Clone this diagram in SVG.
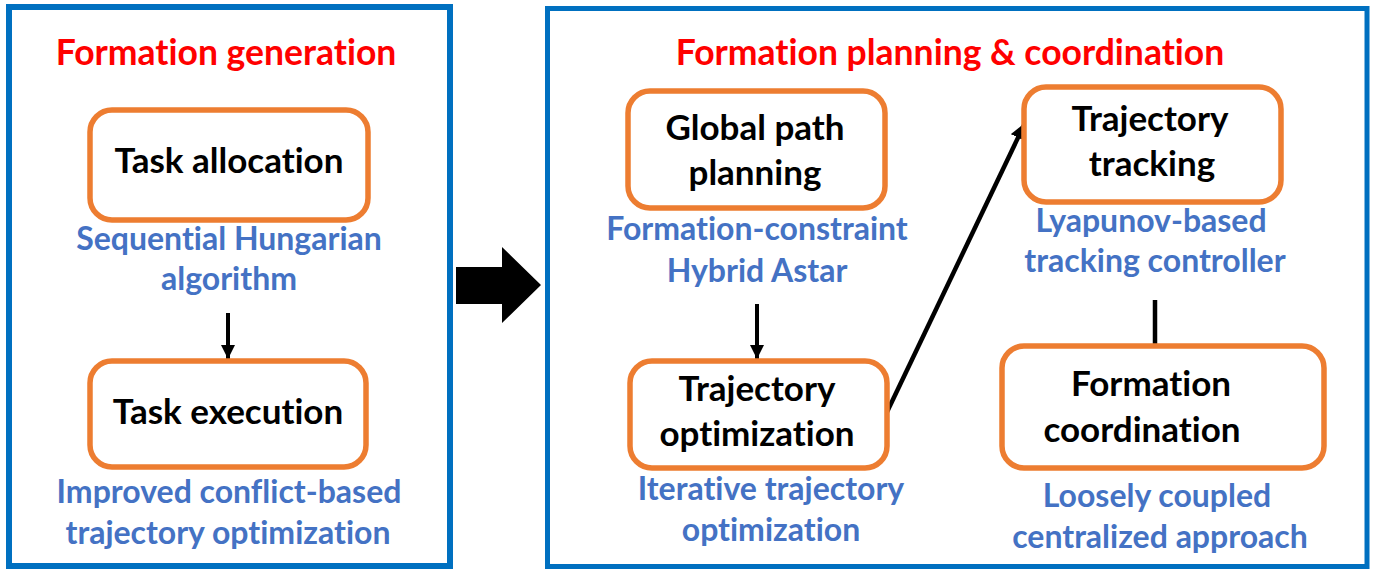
<svg xmlns="http://www.w3.org/2000/svg" width="1374" height="575" viewBox="0 0 1374 575">
<defs>
<style>
text{font-variant-ligatures:none;font-feature-settings:"liga" 0}
.panel{fill:#FFFFFF;stroke:#0070C0;stroke-width:6}
.node{fill:#FFFFFF;stroke:#ED7D31;stroke-width:5.5}
.title{font-family:Lato,"Open Sans",sans-serif;font-weight:bold;font-size:35.5px;fill:#FF0000;text-anchor:middle}
.label{font-family:Lato,"Open Sans",sans-serif;font-weight:bold;font-size:35px;fill:#000000;text-anchor:middle}
.sub{font-family:Lato,"Open Sans",sans-serif;font-weight:bold;font-size:32px;fill:#4472C4;text-anchor:middle}
.conn{stroke:#000000;stroke-width:4;fill:none}
</style>
<marker id="ah" viewBox="0 0 10 10" refX="10" refY="5" markerWidth="3.6" markerHeight="3.6" markerUnits="strokeWidth" orient="auto">
<path d="M0,0 L10,5 L0,10 Z" fill="#000000"/>
</marker>
</defs>
<rect width="1374" height="575" fill="#FFFFFF"/>
<g id="panel-generation">
<rect class="panel" x="9" y="7" width="441" height="559"/>
<text class="title" x="226" y="65">Formation generation</text>
</g>
<g id="panel-planning">
<rect class="panel" x="547.5" y="8.5" width="819.5" height="558" style="stroke-width:5"/>
<text class="title" x="950" y="65">Formation planning &amp; coordination</text>
</g>
<g id="connectors">
<line class="conn" x1="228" y1="313" x2="228" y2="359" marker-end="url(#ah)"/>
<line class="conn" x1="757" y1="304" x2="757" y2="359" marker-end="url(#ah)"/>
<line class="conn" x1="887" y1="412" x2="1025" y2="123" style="stroke-width:4.5" marker-end="url(#ah)"/>
<line class="conn" x1="1155" y1="300" x2="1155" y2="344" style="stroke-width:4.5"/>
<polygon points="456,267 502,267 502,247 541,285 502,323 502,304 456,304" fill="#000000"/>
</g>
<g id="node-task-allocation">
<rect class="node" x="90" y="110" width="278" height="110" rx="22"/>
<text class="label" x="229" y="173">Task allocation</text>
<text class="sub" x="229" y="250">Sequential Hungarian</text>
<text class="sub" x="229" y="290">algorithm</text>
</g>
<g id="node-task-execution">
<rect class="node" x="90" y="361" width="276" height="106" rx="22"/>
<text class="label" x="228" y="424">Task execution</text>
<text class="sub" x="229" y="503">Improved conflict-based</text>
<text class="sub" x="228" y="544">trajectory optimization</text>
</g>
<g id="node-global-path-planning">
<rect class="node" x="628" y="91" width="257" height="117" rx="22"/>
<text class="label" x="755" y="140">Global path</text>
<text class="label" x="755" y="185">planning</text>
<text class="sub" x="757" y="240">Formation-constraint</text>
<text class="sub" x="757" y="282">Hybrid Astar</text>
</g>
<g id="node-trajectory-optimization">
<rect class="node" x="630" y="361" width="257" height="107" rx="22"/>
<text class="label" x="757" y="401">Trajectory</text>
<text class="label" x="757" y="446">optimization</text>
<text class="sub" x="771" y="500">Iterative trajectory</text>
<text class="sub" x="771" y="541">optimization</text>
</g>
<g id="node-trajectory-tracking">
<rect class="node" x="1024" y="87" width="257" height="115" rx="22"/>
<text class="label" x="1150" y="131">Trajectory</text>
<text class="label" x="1152" y="176">tracking</text>
<text class="sub" x="1151" y="232">Lyapunov-based</text>
<text class="sub" x="1155" y="272">tracking controller</text>
</g>
<g id="node-formation-coordination">
<rect class="node" x="1002" y="346" width="322" height="122" rx="22"/>
<text class="label" x="1151" y="396">Formation</text>
<text class="label" x="1142" y="442">coordination</text>
<text class="sub" x="1157" y="507">Loosely coupled</text>
<text class="sub" x="1160" y="548">centralized approach</text>
</g>
</svg>
